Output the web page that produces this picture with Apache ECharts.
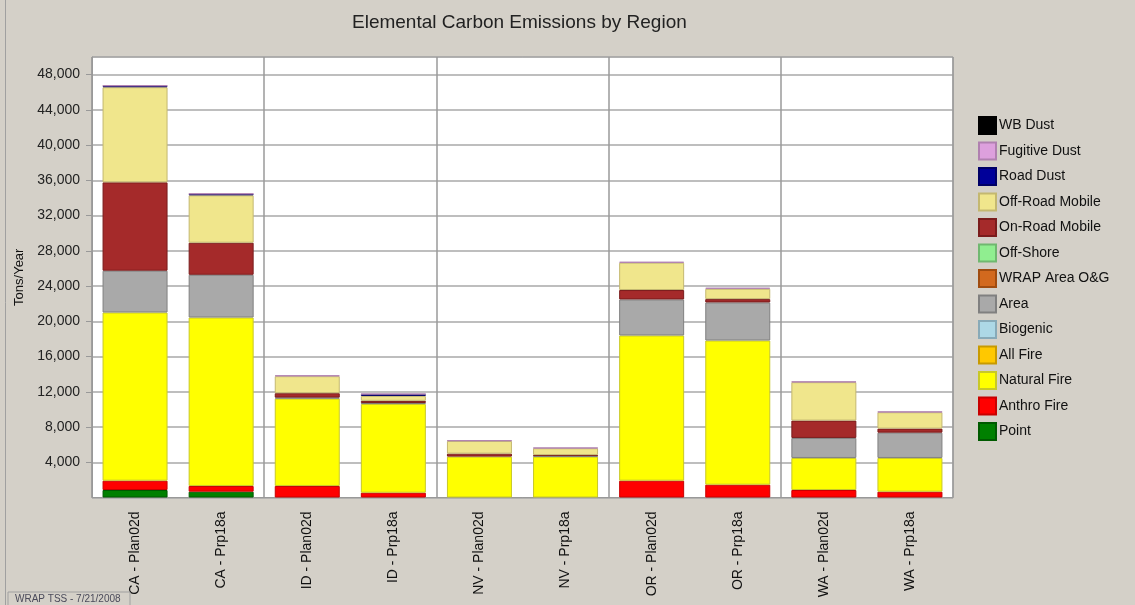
<!DOCTYPE html>
<html>
<head>
<meta charset="utf-8">
<script src="https://cdn.jsdelivr.net/npm/echarts@6/dist/echarts.min.js"></script>
<style>
html,body{margin:0;padding:0;background:#d4d0c8;}
#chart{width:1135px;height:605px;}
</style>
</head>
<body>
<div id="chart"></div>
<script>
const categories = ['CA - Plan02d','CA - Prp18a','ID - Plan02d','ID - Prp18a','NV - Plan02d','NV - Prp18a','OR - Plan02d','OR - Prp18a','WA - Plan02d','WA - Prp18a'];
const regions = ['CA','ID','NV','OR','WA'];
const yTicks = [4000,8000,12000,16000,20000,24000,28000,32000,36000,40000,44000,48000];

const point        = [850, 660, 0, 0, 0, 0, 0, 0, 0, 0];
const anthroFire   = [1060, 650, 1310, 545, 0, 0, 1910, 1455, 850, 660];
const naturalFire  = [19090, 19120, 9920, 10075, 4640, 4640, 16480, 16365, 3640, 3830];
const allFire      = [0, 0, 0, 0, 0, 0, 0, 0, 0, 0];
const biogenic     = [0, 0, 0, 0, 0, 0, 0, 0, 0, 0];
const area         = [4740, 4850, 110, 100, 0, 80, 4090, 4320, 2270, 2870];
const wrapAreaOG   = [0, 0, 0, 0, 0, 0, 0, 0, 0, 0];
const offShore     = [0, 0, 0, 0, 0, 0, 0, 0, 0, 0];
const onRoadMobile = [10030, 3640, 500, 250, 340, 90, 1070, 380, 1970, 460];
const offRoadMobile= [10800, 5380, 1930, 560, 1440, 780, 3100, 1170, 4360, 1860];
const roadDust     = [150, 150, 0, 200, 0, 0, 0, 0, 0, 0];
const fugitiveDust = [40, 40, 90, 30, 60, 60, 100, 120, 70, 70];
const wbDust       = [0, 0, 0, 0, 0, 0, 0, 0, 0, 0];

const seriesDefs = [
  ['Point', point, '#008000', '#005a00'],
  ['Anthro Fire', anthroFire, '#ff0000', '#c80000'],
  ['Natural Fire', naturalFire, '#ffff00', '#c8c828'],
  ['All Fire', allFire, '#ffc800', '#c89a00'],
  ['Biogenic', biogenic, '#add8e6', '#88aab8'],
  ['Area', area, '#a9a9a9', '#808080'],
  ['WRAP Area O&G', wrapAreaOG, '#d2691e', '#a04c10'],
  ['Off-Shore', offShore, '#90ee90', '#70b870'],
  ['On-Road Mobile', onRoadMobile, '#a52a2a', '#7a1c1c'],
  ['Off-Road Mobile', offRoadMobile, '#f0e68c', '#c4b870'],
  ['Road Dust', roadDust, '#000099', '#000066'],
  ['Fugitive Dust', fugitiveDust, '#dda0dd', '#b080b0'],
  ['WB Dust', wbDust, '#000000', '#000000']
];

const series = seriesDefs.map(([name, vals, color, border]) => ({
  name: name,
  type: 'bar',
  stack: 'total',
  xAxisIndex: 0,
  barWidth: 65,
  data: vals.map(v => v === 0 ? null : v),
  itemStyle: { color: color, borderColor: border, borderWidth: 1 },
  emphasis: { disabled: true }
}));

const chart = echarts.init(document.getElementById('chart'), null, { renderer: 'canvas' });
const fontFam = 'Liberation Sans, Arial, sans-serif';
chart.setOption({
  backgroundColor: '#d4d0c8',
  animation: false,
  title: {
    text: 'Elemental Carbon Emissions by Region',
    left: 347, top: 8,
    textStyle: { fontSize: 19, fontWeight: 'normal', color: '#222', fontFamily: fontFam }
  },
  legend: {
    orient: 'vertical',
    left: 973, top: 111,
    itemWidth: 17, itemHeight: 17, itemGap: 6.5,
    icon: 'rect',
    data: seriesDefs.map(d => d[0]).reverse(),
    textStyle: { fontSize: 14, color: '#111', fontFamily: fontFam, padding: [0,0,0,-2] },
    selectedMode: false
  },
  grid: {
    left: 92, right: 182, top: 57, bottom: 107.5,
    show: true, backgroundColor: '#ffffff', borderColor: '#999', borderWidth: 1
  },
  xAxis: [{
    type: 'category',
    data: categories,
    axisLine: { lineStyle: { color: '#999', width: 1 } },
    axisTick: { alignWithLabel: true, length: 7, lineStyle: { color: '#999' } },
    axisLabel: { rotate: 90, fontSize: 14, color: '#111', margin: 14, fontFamily: fontFam, interval: 0 },
    splitLine: { show: false }
  }, {
    type: 'category',
    data: regions,
    position: 'bottom',
    axisLine: { show: false },
    axisTick: { show: false },
    axisLabel: { show: false },
    splitLine: { show: true, interval: 0, lineStyle: { color: '#9a9a9a', width: 1.5 } }
  }],
  yAxis: {
    type: 'value',
    min: 0, max: 50000, interval: 4000,
    name: 'Tons/Year',
    nameLocation: 'middle',
    nameGap: 66,
    nameTextStyle: { fontSize: 13, color: '#111', fontFamily: fontFam },
    axisLine: { show: true, lineStyle: { color: '#999' } },
    axisTick: { show: true, length: 6, lineStyle: { color: '#999' } },
    axisLabel: {
      fontSize: 14, color: '#222', margin: 12, fontFamily: fontFam,
      showMinLabel: false, showMaxLabel: false,
      formatter: v => yTicks.indexOf(v) >= 0 ? v.toLocaleString('en-US') : ''
    },
    splitLine: { show: true, lineStyle: { color: '#a8a8a8', width: 1.5 } }
  },
  graphic: [
    { type: 'line', shape: { x1: 5.5, y1: 0, x2: 5.5, y2: 605 }, style: { stroke: '#a0a0a0', lineWidth: 1 } },
    { type: 'rect', shape: { x: 8, y: 592, width: 122, height: 16 }, style: { fill: '#d4d0c8', stroke: '#a0a0a0', lineWidth: 1 }, z: 100 },
    { type: 'text', left: 15, top: 594, style: { text: 'WRAP TSS - 7/21/2008', fontSize: 10, fill: '#4a4a5a', fontFamily: fontFam }, z: 101 }
  ],
  series: series
});
</script>
</body>
</html>
